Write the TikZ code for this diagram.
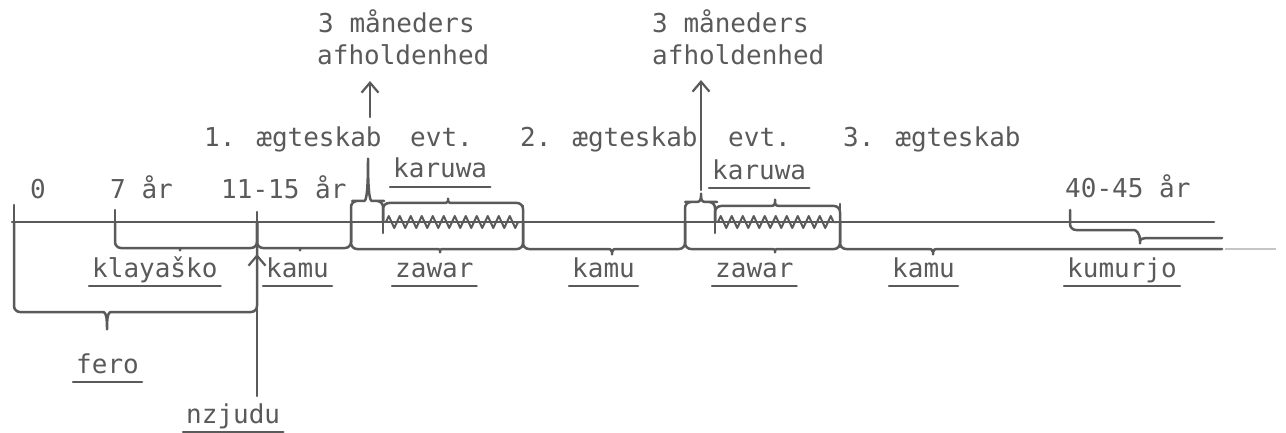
\documentclass[tikz,border=0pt]{standalone}
\usepackage{fontspec}
\newfontfamily\twfont{DejaVu Sans Mono}
\usetikzlibrary{arrows.meta,decorations.pathmorphing}
\definecolor{ink}{HTML}{5A5A5A}
\tikzset{
  ln/.style={draw=ink,line width=2.5pt,line cap=round,line join=round},
  txt/.style={anchor=base west,inner sep=0pt,text=ink,font=\twfont\fontsize{26}{30}\selectfont},
  uparrow/.style={ln,-{Straight Barb[length=10pt,width=17pt,line width=2.2pt]}},
  zz/.style={ln,line width=2pt,decorate,decoration={zigzag,segment length=11pt,amplitude=6pt}}
}
% x1, x2, yarm, ybar, xtip, ytip
\newcommand\mybrace[6]{%
  \draw[ln,rounded corners=6pt] (#1,#3) -- (#1,#4) -- ({#5-10},#4)
    .. controls ({#5-3},#4) and (#5,#4) .. (#5,#6)
    .. controls (#5,#4) and ({#5+3},#4) .. ({#5+10},#4) -- (#2,#4) -- (#2,#3);}
\newcommand\ulin[1]{\draw[ln] ([xshift=-3pt,yshift=-9pt]#1.base west) -- ([xshift=3pt,yshift=-9pt]#1.base east);}
\begin{document}
\begin{tikzpicture}[x=1pt,y=-1pt]
\useasboundingbox (0,0) rectangle (1286,433);

% ---- texts ----
\node[txt] (m1) at (318,33) {3 måneders};
\node[txt] (a1) at (317,65) {afholdenhed};
\node[txt] (m2) at (652,33) {3 måneders};
\node[txt] (a2) at (652,65) {afholdenhed};
\node[txt] (e1) at (204,147) {1. ægteskab};
\node[txt] (v1) at (410,147) {evt.};
\node[txt] (e2) at (520,147) {2. ægteskab};
\node[txt] (v2) at (728,147) {evt.};
\node[txt] (e3) at (843,147) {3. ægteskab};
\node[txt] (k1) at (393,178) {karuwa};
\node[txt] (k2) at (712,179) {karuwa};
\node[txt] (y0) at (30,198) {0};
\node[txt] (y7) at (110,198) {7 år};
\node[txt] (y11) at (221,198) {11-15 år};
\node[txt] (y40) at (1065,197) {40-45 år};
\node[txt] (kl) at (92,277) {klayaško};
\node[txt] (ka1) at (266,277) {kamu};
\node[txt] (za1) at (395,277) {zawar};
\node[txt] (ka2) at (572,277) {kamu};
\node[txt] (za2) at (715,277) {zawar};
\node[txt] (ka3) at (892,277) {kamu};
\node[txt] (ku) at (1067,277) {kumurjo};
\node[txt] (fe) at (76,373) {fero};
\node[txt] (nz) at (186,423) {nzjudu};
\foreach \n in {k1,k2,kl,ka1,za1,ka2,za2,ka3,ku,fe,nz} {\ulin{\n}}

% ---- time line ----
\coordinate (L0) at (12,222);
\coordinate (L1) at (1214,222);
\draw[ln] (L0) -- (L1);
% ticks
\draw[ln] (14,205) -- (14,222);
\draw[ln] (115,210) -- (115,222);
\draw[ln] (257,212) -- (257,222);
\draw[ln] (383,222) -- (383,233);
\draw[ln] (715,222) -- (715,233);
\draw[ln] (523,206) -- (523,247);
\draw[ln] (840,204) -- (840,247);

% braces below
\mybrace{14}{257}{222}{312}{107}{333}
\mybrace{115}{257}{222}{248}{180}{254}
\mybrace{257}{351}{222}{248}{300}{254}
\mybrace{351}{523}{222}{249}{440}{256}
\mybrace{523}{685}{222}{249}{612}{258}
\mybrace{685}{840}{222}{249}{775}{256}
\draw[ln,rounded corners=6pt] (840,222) -- (840,249) -- (923,249)
   .. controls (930,249) and (933,249) .. (933,258)
   .. controls (933,249) and (936,249) .. (943,249) -- (1222,249);
\draw[draw=ink!35,line width=2pt] (1225,249) -- (1276,249);
\draw[ln,rounded corners=6pt] (1070,210) -- (1070,230) -- (1128,230)
   .. controls (1136,230) and (1140,233) .. (1140,247)
   .. controls (1140,239) and (1144,238) .. (1152,238) -- (1222,238);

% braces above
\mybrace{351}{383}{222}{201}{368}{155}
\mybrace{383}{523}{222}{203}{448}{195}
\mybrace{685}{715}{222}{202}{701}{190}
\mybrace{715}{840}{222}{206}{775}{196}

% karuwa zigzags
\draw[zz] (386,222) -- (520,222);
\draw[zz] (718,222) -- (837,222);

% arrows
\coordinate (r1) at (370,117);
\coordinate (r1t) at (370,81);
\draw[uparrow] (r1) -- (r1t);
\coordinate (r2) at (701,190);
\coordinate (r2t) at (701,80);
\draw[uparrow] (r2) -- (r2t);
\coordinate (n1) at (257,396);
\coordinate (n1t) at (257,254);
\draw[uparrow] (n1) -- (n1t);
\end{tikzpicture}
\end{document}
